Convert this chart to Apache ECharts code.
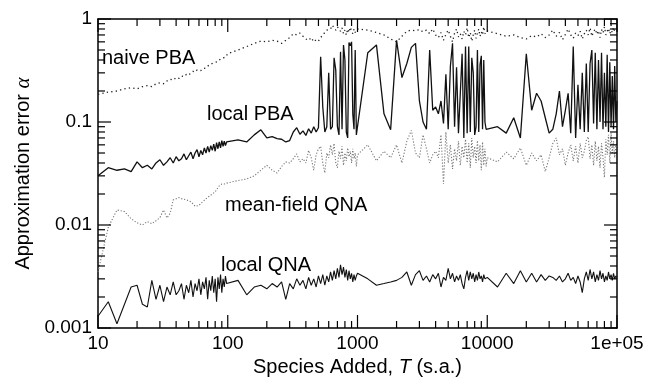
<!DOCTYPE html>
<html><head><meta charset="utf-8">
<script src="https://cdn.jsdelivr.net/npm/echarts@6/dist/echarts.min.js"></script>
<style>html,body{margin:0;padding:0;background:#fff}#wrap{position:relative;width:646px;height:379px}#c,#t{position:absolute;left:0;top:0;width:646px;height:379px}#t{pointer-events:none}</style>
</head><body><div id="wrap"><div id="c"></div><div id="t"></div></div><script>
// Species added T (s.a.)
const T = [
10,12,14,16,18,20,22,24,26,28,30,32,34,36,38,40,42,44,46,48,50,52,54,56,58,60,62,64,66,68,70,72,74,76,78,80,82,84,86,88,90,92,94,96,98,
100,120,140,160,180,200,220,240,260,280,300,320,340,360,380,400,420,440,460,480,500,520,540,560,580,600,620,640,660,680,700,720,740,760,780,800,820,840,860,880,900,920,940,960,980,
1000,1200,1400,1600,1800,2000,2200,2400,2600,2800,3000,3200,3400,3600,3800,4000,4200,4400,4600,4800,5000,5200,5400,5600,5800,6000,6200,6400,6600,6800,7000,7200,7400,7600,7800,8000,8200,8400,8600,8800,9000,9200,9400,9600,9800,
10000,12000,14000,16000,18000,20000,22000,24000,26000,28000,30000,32000,34000,36000,38000,40000,42000,44000,46000,48000,50000,52000,54000,56000,58000,60000,62000,64000,66000,68000,70000,72000,74000,76000,78000,80000,82000,84000,86000,88000,90000,92000,94000,96000,98000,
100000];

const naivePBA = [
0.185,0.195,0.20,0.21,0.215,0.21,0.22,0.225,0.22,0.235,0.24,0.235,0.25,0.26,0.255,0.27,0.265,0.28,0.275,0.29,0.285,0.30,0.31,0.305,0.32,0.325,0.315,0.33,0.34,0.335,0.35,0.36,0.355,0.37,0.365,0.38,0.39,0.385,0.40,0.41,0.40,0.42,0.43,0.425,0.44,
0.46,0.50,0.54,0.58,0.61,0.60,0.62,0.61,0.58,0.62,0.66,0.72,0.70,0.73,0.68,0.64,0.62,0.66,0.60,0.63,0.61,0.66,0.70,0.74,0.78,0.76,0.80,0.87,0.82,0.78,0.84,0.80,0.76,0.82,0.72,0.78,0.70,0.80,0.74,0.83,0.76,0.72,0.80,0.74,0.76,
0.80,0.78,0.74,0.70,0.64,0.60,0.68,0.76,0.78,0.77,0.79,0.75,0.78,0.72,0.80,0.70,0.66,0.74,0.62,0.71,0.78,0.68,0.60,0.73,0.80,0.67,0.72,0.64,0.76,0.70,0.82,0.66,0.74,0.61,0.70,0.78,0.65,0.73,0.80,0.68,0.75,0.70,0.84,0.72,0.77,
0.74,0.72,0.68,0.70,0.66,0.64,0.69,0.67,0.72,0.66,0.70,0.78,0.68,0.74,0.63,0.71,0.80,0.70,0.65,0.73,0.69,0.76,0.64,0.72,0.78,0.70,0.82,0.68,0.75,0.80,0.71,0.77,0.66,0.79,0.73,0.84,0.70,0.76,0.81,0.72,0.78,0.74,0.83,0.76,0.79,
0.78];

const localPBA = [
0.030,0.036,0.034,0.035,0.033,0.041,0.036,0.038,0.035,0.040,0.043,0.038,0.041,0.045,0.040,0.046,0.042,0.044,0.049,0.043,0.047,0.051,0.044,0.050,0.054,0.046,0.053,0.048,0.056,0.050,0.058,0.051,0.059,0.053,0.061,0.052,0.063,0.055,0.064,0.056,0.066,0.058,0.065,0.059,0.064,
0.062,0.067,0.064,0.075,0.084,0.070,0.072,0.069,0.068,0.064,0.066,0.080,0.088,0.076,0.082,0.074,0.086,0.078,0.090,0.080,0.088,0.43,0.14,0.08,0.09,0.30,0.085,0.09,0.42,0.32,0.09,0.075,0.48,0.085,0.56,0.40,0.08,0.07,0.59,0.55,0.60,0.12,0.085,0.50,0.075,
0.072,0.47,0.56,0.12,0.084,0.62,0.27,0.37,0.53,0.58,0.16,0.10,0.085,0.50,0.13,0.14,0.12,0.16,0.097,0.29,0.085,0.35,0.58,0.09,0.34,0.078,0.19,0.46,0.07,0.54,0.078,0.54,0.08,0.42,0.30,0.075,0.09,0.50,0.08,0.36,0.44,0.085,0.40,0.10,0.085,
0.085,0.09,0.078,0.11,0.07,0.46,0.13,0.19,0.16,0.11,0.078,0.085,0.12,0.20,0.09,0.13,0.19,0.078,0.54,0.07,0.23,0.085,0.30,0.08,0.37,0.08,0.37,0.50,0.097,0.47,0.085,0.40,0.10,0.47,0.085,0.30,0.09,0.45,0.08,0.38,0.09,0.28,0.085,0.35,0.10,
0.16];

const meanFieldQNA = [
0.0035,0.0095,0.014,0.0135,0.0115,0.0105,0.010,0.0108,0.0103,0.011,0.0118,0.014,0.0117,0.013,0.0175,0.018,0.0185,0.018,0.0178,0.0175,0.0172,0.0168,0.016,0.0152,0.0148,0.0155,0.016,0.0168,0.0175,0.018,0.0185,0.019,0.0195,0.020,0.0205,0.021,0.022,0.023,0.024,0.0245,0.025,0.0255,0.025,0.026,0.0255,
0.026,0.027,0.028,0.030,0.034,0.038,0.034,0.032,0.037,0.041,0.040,0.044,0.049,0.041,0.044,0.040,0.053,0.045,0.034,0.048,0.055,0.058,0.040,0.032,0.050,0.045,0.060,0.048,0.062,0.040,0.036,0.052,0.044,0.058,0.038,0.050,0.042,0.056,0.046,0.052,0.040,0.055,0.044,0.050,0.037,
0.048,0.060,0.042,0.052,0.045,0.060,0.040,0.065,0.083,0.050,0.045,0.075,0.055,0.040,0.048,0.052,0.045,0.075,0.025,0.080,0.040,0.060,0.035,0.055,0.042,0.065,0.038,0.058,0.045,0.068,0.040,0.062,0.036,0.070,0.045,0.058,0.040,0.066,0.042,0.060,0.034,0.064,0.038,0.055,0.037,
0.045,0.041,0.051,0.044,0.056,0.038,0.050,0.042,0.048,0.033,0.045,0.062,0.070,0.048,0.055,0.038,0.050,0.060,0.042,0.058,0.040,0.062,0.045,0.052,0.066,0.072,0.044,0.060,0.038,0.065,0.042,0.058,0.036,0.062,0.045,0.029,0.068,0.048,0.075,0.040,0.078,0.050,0.065,0.045,0.060,
0.055];

const localQNA = [
0.0013,0.0018,0.0011,0.0017,0.0025,0.0026,0.0017,0.0016,0.0029,0.0019,0.0026,0.0018,0.0025,0.0021,0.0028,0.0021,0.0023,0.0027,0.0019,0.0026,0.0022,0.0029,0.0020,0.0027,0.0023,0.0030,0.0021,0.0028,0.0024,0.0031,0.0019,0.0029,0.0023,0.0032,0.0022,0.0030,0.0018,0.0031,0.0024,0.0033,0.0022,0.0030,0.0025,0.0032,0.0027,
0.0027,0.0029,0.0021,0.0025,0.0026,0.0024,0.0027,0.0025,0.0028,0.0019,0.0027,0.0024,0.0030,0.0026,0.0029,0.0024,0.0031,0.0026,0.0030,0.0025,0.0032,0.0027,0.0033,0.0026,0.0032,0.0028,0.0035,0.0029,0.0036,0.0030,0.0038,0.0031,0.0041,0.0033,0.0039,0.0031,0.0037,0.0029,0.0036,0.0030,0.0034,0.0028,0.0033,0.0029,0.0032,
0.0034,0.0030,0.0026,0.0027,0.0028,0.0029,0.0031,0.0035,0.0026,0.0033,0.0036,0.0029,0.0032,0.0028,0.0033,0.0030,0.0034,0.0025,0.0031,0.0029,0.0038,0.0030,0.0034,0.0028,0.0032,0.0029,0.0033,0.0027,0.0024,0.0031,0.0036,0.0029,0.0035,0.0030,0.0034,0.0028,0.0033,0.0029,0.0035,0.0030,0.0032,0.0028,0.0033,0.0030,0.0031,
0.0031,0.0025,0.0034,0.0027,0.0036,0.0028,0.0034,0.0028,0.0033,0.0029,0.0032,0.0031,0.0029,0.0032,0.0028,0.0030,0.0034,0.0029,0.0031,0.0027,0.0032,0.0028,0.0022,0.0030,0.0035,0.0029,0.0037,0.0030,0.0035,0.0028,0.0033,0.0029,0.0036,0.0030,0.0034,0.0028,0.0032,0.0029,0.0035,0.0030,0.0033,0.0029,0.0034,0.0030,0.0032,
0.0031];

const seriesNames = ['naive PBA','local PBA','mean-field QNA','local QNA'];
const xMajor = [10,100,1000,10000,100000];
const xTickLabels = ['10','100','1000','10000','1e+05'];
const xMinor = [20,30,40,50,60,70,80,90,200,300,400,500,600,700,800,900,2000,3000,4000,5000,6000,7000,8000,9000,20000,30000,40000,50000,60000,70000,80000,90000];
const yMajor = [0.001,0.01,0.1,1];
const yTickLabels = ['0.001','0.01','0.1','1'];
const yMinor = [0.002,0.003,0.004,0.005,0.006,0.007,0.008,0.009,0.02,0.03,0.04,0.05,0.06,0.07,0.08,0.09,0.2,0.3,0.4,0.5,0.6,0.7,0.8,0.9];

const FONT = '"Liberation Sans", Arial, Helvetica, sans-serif';
const X_MIN = 10, X_MAX = 100000, Y_MIN = 0.001, Y_MAX = 1;
const GRID = {left: 98, right: 29, top: 19, bottom: 51, containLabel: false, outerBoundsMode: 'none'};
const pairs = (ys) => T.map((t, i) => [t, ys[i]]);

function mkAxis(isX, position, withLabels, withLine) {
  const ax = {
    type: 'log', logBase: 10,
    min: isX ? X_MIN : Y_MIN, max: isX ? X_MAX : Y_MAX,
    position: position,
    axisLine: {show: withLine, onZero: false, lineStyle: {color: '#000', width: 1.5}},
    axisTick: {show: false},
    axisLabel: {show: false},
    splitLine: {show: false},
    silent: true
  };
  if (withLabels) {
    ax.axisLabel = {
      show: true, color: '#000', fontSize: 19, fontFamily: FONT,
      margin: 6, showMinLabel: true, showMaxLabel: true,
      formatter: function (v) {
        const e = Math.round(Math.log10(v));
        const s = isX ? xTickLabels[e - 1] : yTickLabels[e + 3];
        return s === undefined ? '' : s;
      }
    };
  }
  return ax;
}

const xAxes = [mkAxis(true, 'bottom', true, true), mkAxis(true, 'top', false, true)];
xAxes[0].name = '{a|Species Added, }{b|T}{a| (s.a.)}';
xAxes[0].nameLocation = 'middle';
xAxes[0].nameGap = 27;
xAxes[0].nameTextStyle = {color: '#000', fontSize: 20, fontFamily: FONT,
  rich: {a: {fontSize: 20, fontFamily: FONT, color: '#000'}, b: {fontSize: 20, fontFamily: FONT, fontStyle: 'italic', color: '#000'}}};

const yAxes = [mkAxis(false, 'left', true, true), mkAxis(false, 'right', false, true)];
yAxes[0].name = '{a|Approximation error }{b|α}';
yAxes[0].nameLocation = 'middle';
yAxes[0].nameRotate = 90;
yAxes[0].nameGap = 58;
yAxes[0].nameTextStyle = {color: '#000', fontSize: 20, fontFamily: FONT,
  rich: {a: {fontSize: 20, fontFamily: FONT, color: '#000'}, b: {fontSize: 21, fontFamily: '"Liberation Serif", serif', fontStyle: 'italic', color: '#000'}}};

function lineSeries(name, ys, color, width, type) {
  return {
    name: name, type: 'line', xAxisIndex: 0, yAxisIndex: 0,
    data: pairs(ys), showSymbol: false, symbol: 'none', smooth: false,
    lineStyle: {color: color, width: width, type: type}, silent: true, z: 3
  };
}

const textPos = [[102, 58], [207, 114], [225, 205], [221, 265]];
const labelGraphics = seriesNames.map(function (n, i) {
  return {type: 'text', x: textPos[i][0], y: textPos[i][1],
    style: {text: n, fontSize: 20, fontFamily: FONT, fill: '#000', verticalAlign: 'middle'}};
});

// main chart: data, axes, labels
const chart = echarts.init(document.getElementById('c'), null, {renderer: 'canvas'});
try {
  chart.setOption({
    animation: false,
    backgroundColor: '#fff',
    grid: GRID,
    xAxis: xAxes,
    yAxis: yAxes,
    series: [
      lineSeries(seriesNames[2], meanFieldQNA, '#777', 1.1, [1.2, 1.8]),
      lineSeries(seriesNames[0], naivePBA, '#222', 1.3, [1.3, 3.2]),
      lineSeries(seriesNames[1], localPBA, '#111', 1.3, 'solid'),
      lineSeries(seriesNames[3], localQNA, '#111', 1.1, 'solid')
    ],
    graphic: labelGraphics
  });
} catch (e) {}

// overlay chart with identical grid and log axes: inward tick marks on all four sides,
// positioned through that chart's own log scales
const tc = echarts.init(document.getElementById('t'), null, {renderer: 'canvas'});
tc.setOption({
  animation: false,
  grid: GRID,
  xAxis: [mkAxis(true, 'bottom', false, false), mkAxis(true, 'top', false, false)],
  yAxis: [mkAxis(false, 'left', false, false), mkAxis(false, 'right', false, false)],
  series: [{type: 'line', data: [[X_MIN, Y_MIN], [X_MAX, Y_MAX]], showSymbol: false, lineStyle: {opacity: 0, width: 0}, silent: true}]
});
const finder = {xAxisIndex: 0, yAxisIndex: 0};
const els = [];
xMajor.concat(xMinor).forEach(function (v, i) {
  const len = i < xMajor.length ? 13 : 7;
  const b = tc.convertToPixel(finder, [v, Y_MIN]);
  const t = tc.convertToPixel(finder, [v, Y_MAX]);
  els.push({type: 'line', shape: {x1: b[0], y1: b[1], x2: b[0], y2: b[1] - len}, style: {stroke: '#000', lineWidth: 1.2}});
  els.push({type: 'line', shape: {x1: t[0], y1: t[1], x2: t[0], y2: t[1] + len}, style: {stroke: '#000', lineWidth: 1.2}});
});
yMajor.concat(yMinor).forEach(function (v, i) {
  const len = i < yMajor.length ? 13 : 7;
  const l = tc.convertToPixel(finder, [X_MIN, v]);
  const r = tc.convertToPixel(finder, [X_MAX, v]);
  els.push({type: 'line', shape: {x1: l[0], y1: l[1], x2: l[0] + len, y2: l[1]}, style: {stroke: '#000', lineWidth: 1.2}});
  els.push({type: 'line', shape: {x1: r[0], y1: r[1], x2: r[0] - len, y2: r[1]}, style: {stroke: '#000', lineWidth: 1.2}});
});
tc.setOption({graphic: els});
</script></body></html>
